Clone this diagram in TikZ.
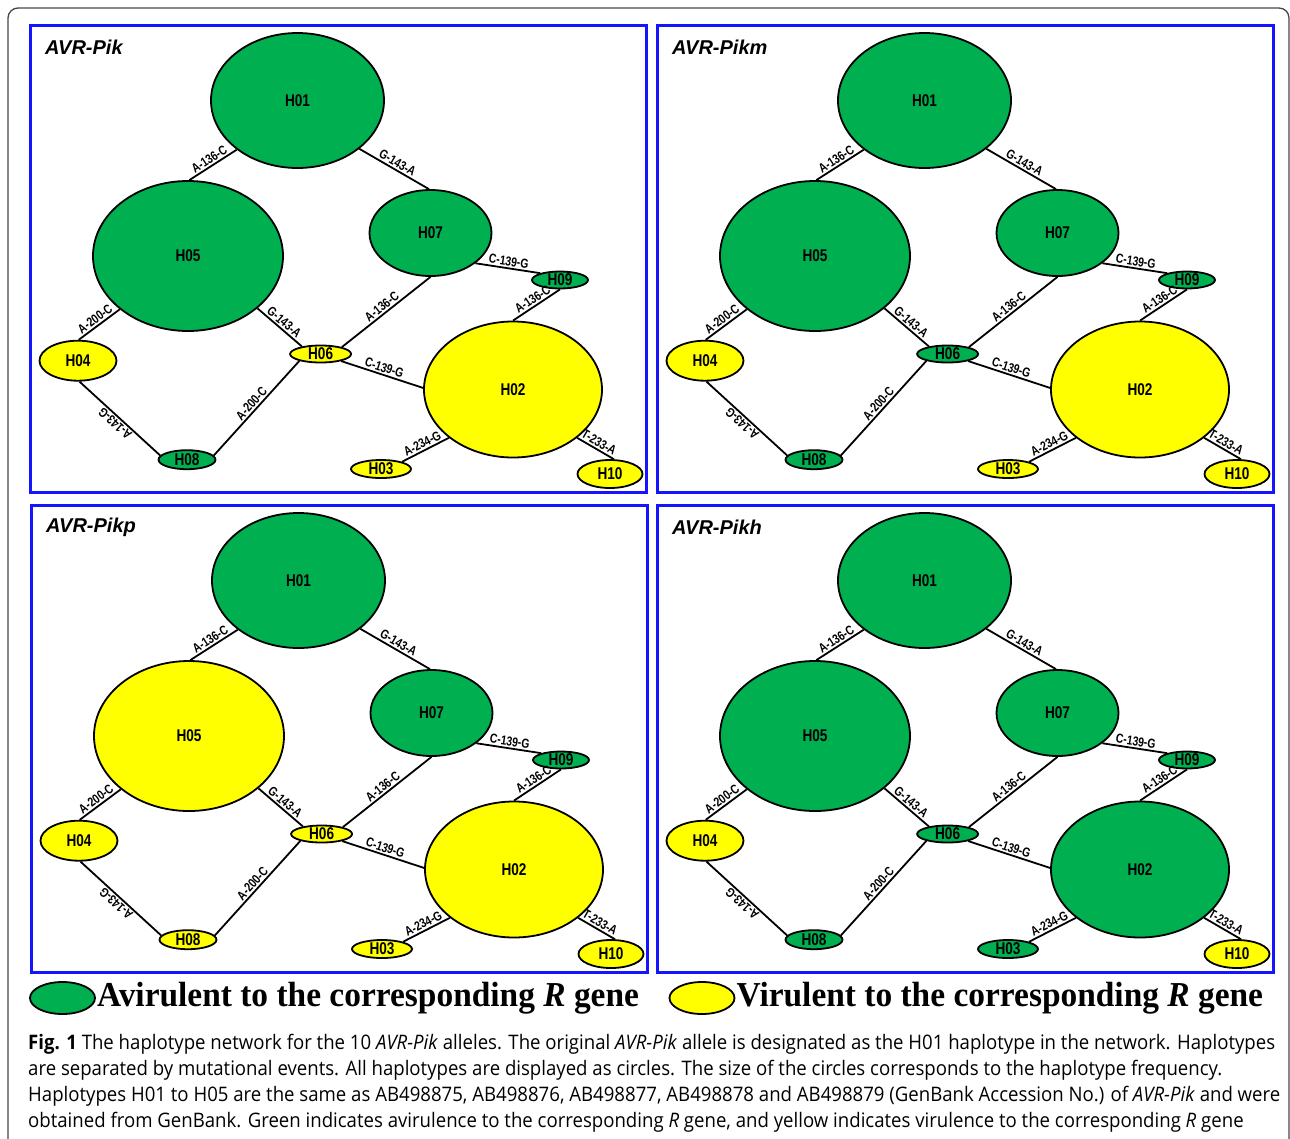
\documentclass[tikz,border=0pt]{standalone}
\usepackage{fontspec}
\usetikzlibrary{shapes.geometric}

\newfontfamily\netfont[FakeStretch=0.8]{Liberation Sans}
\newfontfamily\titlefont{Liberation Sans}
\newfontfamily\keyfont[FakeStretch=0.955]{Liberation Serif}
\newfontfamily\capfont[FakeStretch=0.93]{Open Sans}

\definecolor{avirgreen}{RGB}{0,176,80}
\definecolor{virylw}{RGB}{255,255,0}
\definecolor{panelblue}{RGB}{20,20,255}
\definecolor{framegray}{RGB}{70,70,70}

\tikzset{
  hap/.style={ellipse, draw=black, line width=1.8, inner sep=0pt, fill=#1},
  hapname/.style={font=\netfont\bfseries\fontsize{17}{17}\selectfont, inner sep=0pt},
  link/.style={line width=1.8},
  mut/.style={font=\netfont\bfseries\fontsize{13}{13}\selectfont, sloped, above, inner sep=1.5pt, midway},
  paneltitle/.style={font=\titlefont\bfseries\itshape\fontsize{20}{20}\selectfont, inner sep=0pt},
}

% one haplotype network: shift x, shift y, allele, then colours of H05 H06 H08 H02 H03
\newcommand{\hapnet}[8]{%
\begin{scope}[shift={(#1,#2)}, name prefix=#3-]
\draw[panelblue, line width=3] (30,25) rectangle (646,492);
\node[paneltitle, anchor=west] (title) at (45,47) {#3};

\node[hap=avirgreen, minimum width=173, minimum height=135, label={[hapname]center:H01}] (H01) at (297.5,100.5) {};
\node[hap=#4, minimum width=190, minimum height=150, label={[hapname]center:H05}] (H05) at (188,256) {};
\node[hap=avirgreen, minimum width=122, minimum height=86, label={[hapname]center:H07}] (H07) at (430.5,233) {};
\node[hap=avirgreen, minimum width=56, minimum height=17, label={[hapname]center:H09}] (H09) at (560,280) {};
\node[hap=virylw, minimum width=77, minimum height=40, label={[hapname]center:H04}] (H04) at (78,360.7) {};
\node[hap=#5, minimum width=61, minimum height=17, label={[hapname]center:H06}] (H06) at (320.6,354) {};
\node[hap=#7, minimum width=178, minimum height=136, label={[hapname]center:H02}] (H02) at (513,389.5) {};
\node[hap=#6, minimum width=57, minimum height=19, label={[hapname]center:H08}] (H08) at (187,459.7) {};
\node[hap=#8, minimum width=60, minimum height=18, label={[hapname]center:H03}] (H03) at (381,469) {};
\node[hap=virylw, minimum width=65, minimum height=28, label={[hapname]center:H10}] (H10) at (610,474) {};

\draw[link] (H01.219) -- node[mut] {A-136-C} (H05.89);
\draw[link] (H01.322) -- node[mut] {G-143-A} (H07.92);
\draw[link] (H07.326) -- node[mut] {C-139-G} (H09.161);
\draw[link] (H09.south) -- node[mut] {A-136-C} (H02.north);
\draw[link] (H07.south) -- node[mut] {A-136-C} (H06.18);
\draw[link] (H05.323) -- node[mut] {G-143-A} (H06.158);
\draw[link] (H05.218) -- node[mut] {A-200-C} (H04.88);
\draw[link] (H06.341) -- node[mut] {C-139-G} (H02.179);
\draw[link] (H08.171) -- node[mut, allow upside down] {A-143-G} (H04.274);
\draw[link] (H08.9) -- node[mut] {A-200-C} (H06.198);
\draw[link] (H02.217) -- node[mut] {A-234-G} (H03.19);
\draw[link] (H02.323) -- node[mut] {T-233-A} (H10.75);
\end{scope}}

\begin{document}
\begin{tikzpicture}[x=1pt, y=-1pt]
\useasboundingbox (0,0) rectangle (1290,1138);
\draw[framegray, line width=1.3, rounded corners=10] (8,8) rectangle (1289,1180);

\hapnet{0}{0}{AVR-Pik}{avirgreen}{virylw}{avirgreen}{virylw}{virylw}
\hapnet{627}{0}{AVR-Pikm}{avirgreen}{avirgreen}{avirgreen}{virylw}{virylw}
\hapnet{1}{480}{AVR-Pikp}{virylw}{virylw}{virylw}{virylw}{virylw}
\hapnet{627}{480}{AVR-Pikh}{avirgreen}{avirgreen}{avirgreen}{avirgreen}{avirgreen}

% legend
\node[hap=avirgreen, minimum width=65, minimum height=32] (keygreen) at (62.5,998) {};
\node[font=\keyfont\bfseries\fontsize{35}{35}\selectfont, anchor=west, inner sep=1pt] (keygreentext) at (keygreen.east) {Avirulent to the corresponding \textit{R} gene};
\node[hap=virylw, minimum width=65, minimum height=32] (keyyellow) at (702,998) {};
\node[font=\keyfont\bfseries\fontsize{35}{35}\selectfont, anchor=west, inner sep=1pt] (keyyellowtext) at (keyyellow.east) {Virulent to the corresponding \textit{R} gene};

% caption
\node[font=\capfont\fontsize{20}{26}\selectfont, anchor=north west, align=left, inner sep=0pt] (caption) at (28,1034) {%
\textbf{Fig. 1} The haplotype network for the 10 \textit{AVR-Pik} alleles. The original \textit{AVR-Pik} allele is designated as the H01 haplotype in the network. Haplotypes\\
are separated by mutational events. All haplotypes are displayed as circles. The size of the circles corresponds to the haplotype frequency.\\
Haplotypes H01 to H05 are the same as AB498875, AB498876, AB498877, AB498878 and AB498879 (GenBank Accession No.) of \textit{AVR-Pik} and were\\
obtained from GenBank. Green indicates avirulence to the corresponding \textit{R} gene, and yellow indicates virulence to the corresponding \textit{R} gene};
\end{tikzpicture}
\end{document}
